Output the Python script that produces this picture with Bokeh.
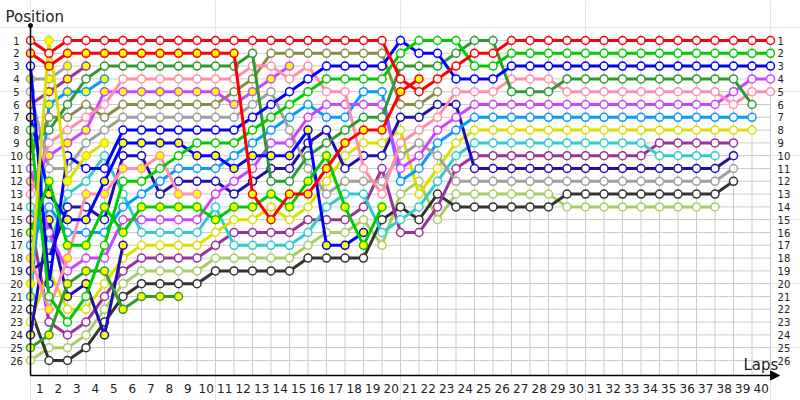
from bokeh.plotting import figure
from bokeh.models import Range1d, Arrow, NormalHead
from bokeh.core.properties import value
from bokeh.embed import file_html
from bokeh.resources import INLINE

# ---------------- data ----------------
laps = list(range(0, 41))
lap_labels = [str(k) for k in range(1, 41)]
positions = list(range(1, 27))

red_a = [1, 2, 1, 1, 1, 1, 1, 1, 1, 1, 1, 1, 1, 1, 1, 1, 1, 1, 1, 1,
         4, 5, 4, 3, 2, 2, 1, 1, 1, 1, 1, 1, 1, 1, 1, 1, 1, 1, 1, 1, 1]
red_b = [2, 3, 2, 2, 2, 2, 2, 2, 2, 2, 2, 2, 13, 15, 13, 13, 11, 9, 8, 8, 5, 4]
lime_a = [8, 21, 23, 21, 17, 12, 12, 11, 10, 9, 9, 9, 8, 7, 6, 5, 4, 4, 4, 4,
          2, 1, 1, 1, 3, 3, 2, 2, 2, 2, 2, 2, 2, 2, 2, 2, 2, 2, 2, 2, 2]
lime_b = [16, 12, 17, 17, 14, 16, 14, 14, 14, 14, 15, 14, 14, 13, 14, 12, 10, 14, 17, 14]
blue_a = [3, 20, 10, 11, 11, 8, 8, 8, 8, 8, 8, 8, 7, 6, 5, 4, 3, 3, 3, 3,
          1, 2, 2, 4, 4, 4, 3, 3, 3, 3, 3, 3, 3, 3, 3, 3, 3, 3, 3, 3, 3]
blue_b = [7, 13, 15, 15, 12, 9, 9, 9, 9, 10, 10, 11, 10, 10, 10, 8, 17, 17, 16]
dkgreen_a = [9, 8, 6, 4, 3, 3, 3, 3, 3, 3, 3, 3, 2, 12, 12, 10, 9, 8, 7, 7,
             3, 3, 3, 2, 1, 1, 5, 5, 5, 4, 4, 4, 4, 4, 4, 4, 4, 4, 4, 6]
dkgreen_b = [25, 24, 20, 19, 19, 22, 21, 21, 21]
pink_a = [13, 9, 8, 7, 6, 4, 4, 4, 4, 4, 4, 4, 3, 3, 4, 3, 5, 5, 11, 13,
          9, 8, 7, 5, 5, 5, 4, 4, 4, 5, 5, 5, 5, 5, 5, 5, 5, 5, 6, 5, 5]
pink_b = [18, 22, 18, 13, 13, 11, 11, 10, 13, 13]
lpurple_a = [11, 16, 19, 18, 18, 15, 15, 15, 15, 15, 13, 12, 11, 9, 9, 7, 6, 6, 6, 6,
             11, 10, 8, 7, 6, 6, 6, 6, 6, 6, 6, 6, 6, 6, 6, 6, 6, 6, 5, 4, 4]
lpurple_b = [12, 10, 9, 8, 5, 5, 5, 5, 5, 5, 5, 6, 5, 4, 3]
olive_a = [10, 7, 7, 6, 7, 6, 6, 6, 6, 6, 6, 5, 4, 2, 2, 2, 2, 2, 2, 2, 6, 6, 5]
grey_a = [5, 11, 11, 9, 8, 7, 7, 7, 7, 7, 7, 7, 6, 5, 8, 11, 13, 12, 12, 12,
          10, 9, 10, 12, 12, 12, 12, 12, 12, 12, 12, 12, 12, 12, 12, 12, 12, 12, 11]
grey_b = [4, 4, 3]
lblue_a = [17, 14, 16, 16, 16, 14, 13, 12, 11, 11, 11, 10, 9, 8, 7, 6, 7, 7, 5, 5,
           12, 11, 9, 8, 7, 7, 7, 7, 7, 7, 7, 7, 7, 7, 7, 7, 7, 7, 7, 7]
lblue_b = [21, 6, 5, 5, 4]
navy_a = [19, 18, 14, 14, 15, 10, 10, 13, 12, 12, 12, 13, 12, 11, 11, 9, 8, 11, 10, 10,
          7, 7, 6, 6, 11, 11, 11, 11, 11, 11, 11, 11, 11, 11, 11, 11, 11, 11, 10]
navy_b = [24, 15, 21, 20, 24, 17]
yellow_a = [23, 19, 22, 22, 20, 18, 17, 17, 17, 17, 16, 15, 15, 14, 15, 14, 12, 10, 9, 9,
            8, 13, 11, 9, 8, 8, 8, 8, 8, 8, 8, 8, 8, 8, 8, 8, 8, 8, 8, 8]
yellow_b = [20, 1, 12, 10, 9]
cyan_a = [14, 17, 13, 12, 10, 13, 16, 16, 16, 16, 14, 17, 17, 17, 17, 16, 14, 13, 13, 16,
          15, 14, 12, 10, 9, 9, 9, 9, 9, 9, 9, 9, 9, 9, 10, 10, 10, 10]
purple_a = [15, 23, 24, 23, 21, 19, 18, 18, 18, 18, 17, 16, 16, 16, 16, 15, 15, 15, 14, 11,
            16, 16, 14, 11, 10, 10, 10, 10, 10, 10, 10, 10, 10, 10, 9, 9, 9, 9, 9]
purple_b = [6, 5, 4, 3]
black_a = [22, 26, 26, 25, 23, 21, 20, 20, 20, 20, 19, 19, 19, 19, 19, 18, 18, 18, 18, 15,
           14, 15, 13, 14, 14, 14, 14, 14, 14, 13, 13, 13, 13, 13, 13, 13, 13, 13, 12]
lgreen_a = [26, 25, 25, 24, 22, 20, 19, 19, 19, 19, 18, 18, 18, 18, 18, 17, 16, 16, 15, 17,
            13, 12, 15, 13, 13, 13, 13, 13, 13, 14, 14, 14, 14, 14, 14, 14, 14, 14]

RED, LIME, BLUE, DKG = "#ff0000", "#00cc00", "#0000ff", "#2f9a2f"
PINK, LPUR, OLIVE, GREY = "#ff8fab", "#cc44ff", "#8a8a4a", "#a0a0a0"
LBLUE, NAVY, YEL, CYAN = "#0a99ff", "#1f0fb0", "#dddd00", "#33cccc"
PURP, BLACK, LGREEN = "#993399", "#333333", "#a8cc66"
WF, YF = "white", "#ffff00"

drivers = [
    (lgreen_a, LGREEN, WF), (black_a, BLACK, WF), (purple_b, PURP, YF), (purple_a, PURP, WF),
    (cyan_a, CYAN, WF), (yellow_a, YEL, WF), (navy_b, NAVY, YF), (navy_a, NAVY, WF),
    (lblue_b, LBLUE, YF), (lblue_a, LBLUE, WF), (grey_b, GREY, YF), (grey_a, GREY, WF),
    (olive_a, OLIVE, WF), (lpurple_b, LPUR, YF), (lpurple_a, LPUR, WF), (pink_b, PINK, YF),
    (pink_a, PINK, WF), (dkgreen_b, DKG, YF), (dkgreen_a, DKG, WF), (blue_b, BLUE, YF),
    (blue_a, BLUE, WF), (lime_b, LIME, YF), (lime_a, LIME, WF), (yellow_b, YEL, YF),
    (red_b, RED, YF), (red_a, RED, WF),
]

# ---------------- figure ----------------
W, H = 800, 400
DX, X0 = 18.5, 30.0      # px per lap, px of lap 0
DY, Y0 = 12.8, 27.2      # px per position, px of position 0
p = figure(width=W, height=H,
           x_range=Range1d(-X0 / DX, (W - X0) / DX),
           y_range=Range1d((H - Y0) / DY, -Y0 / DY),
           output_backend="svg", toolbar_location=None, min_border=0,
           x_axis_location=None, y_axis_location=None)
p.outline_line_color = None
p.background_fill_color = "white"

AX_Y = 27.17
last_lap = laps[-1]

# grid
p.segment(x0=laps, y0=[0.5] * len(laps), x1=laps, y1=[AX_Y] * len(laps),
          line_color="#cccccc", line_width=1)
p.segment(x0=[0] * len(positions), y0=positions, x1=[last_lap] * len(positions), y1=positions,
          line_color="#cccccc", line_width=1)

# drivers
for seq, col, fill in drivers:
    xs = laps[:len(seq)]
    p.line(xs, seq, line_color=col, line_width=3, line_join="round")
    p.scatter(xs, seq, marker="circle", size=8, fill_color=fill,
              line_color=col, line_width=1.5)

# axes
p.segment(x0=[0], y0=[AX_Y], x1=[0], y1=[-0.17], line_color="black", line_width=1.5)
p.scatter([0], [-0.17], marker="circle", size=4, fill_color="black", line_color="black")
p.add_layout(Arrow(end=NormalHead(size=9, fill_color="black", line_color="black"),
                   x_start=0, y_start=AX_Y, x_end=40.49, y_end=AX_Y,
                   line_color="black", line_width=1.5))

FONT = value("DejaVu Sans")
TXT = "#222222"
p.text(x=[-0.757] * len(positions), y=positions, text=[str(v) for v in positions],
       text_font=FONT, text_font_size="10px", text_align="center",
       text_baseline="middle", text_color=TXT)
p.text(x=[40.38] * len(positions), y=positions, text=[str(v) for v in positions],
       text_font=FONT, text_font_size="10px", text_align="left",
       text_baseline="middle", text_color=TXT)
p.text(x=[k - 0.5 for k in range(1, len(lap_labels) + 1)], y=[28.19] * len(lap_labels),
       text=lap_labels, text_font=FONT, text_font_size="12px", text_align="center",
       text_baseline="middle", text_color=TXT)
p.text(x=[-1.35], y=[-0.875], text=["Position"], text_font=FONT, text_font_size="15px",
       text_align="left", text_baseline="middle", text_color=TXT)
p.text(x=[38.54], y=[26.39], text=["Laps"], text_font=FONT, text_font_size="15px",
       text_align="left", text_baseline="middle", text_color=TXT)

open("out.html", "w").write(file_html(p, INLINE))
